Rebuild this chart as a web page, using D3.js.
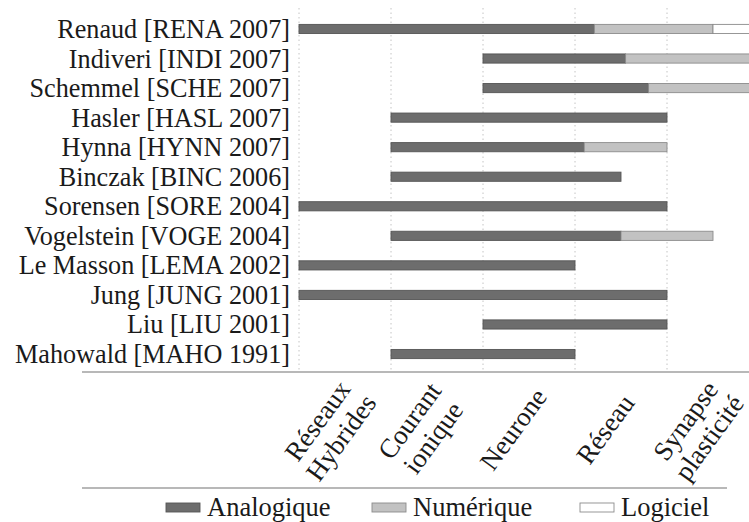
<!DOCTYPE html>
<html>
<head>
<meta charset="utf-8">
<script src="https://cdn.jsdelivr.net/npm/d3@7"></script>
<style>
  html, body { margin: 0; padding: 0; background: #fff; }
  svg { display: block; }
  text { font-family: "Liberation Serif", "Times New Roman", serif; fill: #1a1a1a; }
</style>
</head>
<body>
<svg id="chart" width="749" height="522"></svg>
<script>
// Works, in chronological order from top (newest) to bottom
const references = [
  "Renaud [RENA 2007]", "Indiveri [INDI 2007]", "Schemmel [SCHE 2007]",
  "Hasler [HASL 2007]", "Hynna [HYNN 2007]", "Binczak [BINC 2006]",
  "Sorensen [SORE 2004]", "Vogelstein [VOGE 2004]", "Le Masson [LEMA 2002]",
  "Jung [JUNG 2001]", "Liu [LIU 2001]", "Mahowald [MAHO 1991]"
];

// Modelling levels along the horizontal axis (one line per array entry)
const levels = [
  ["Réseaux", "Hybrides"],
  ["Courant", "ionique"],
  ["Neurone"],
  ["Réseau"],
  ["Synapse", "plasticité"]
];

// Extent of each implementation type, in level units (0 = Réseaux Hybrides boundary)
const analogStart  = [0, 2, 2, 1, 1, 1, 0, 1, 0, 0, 2, 1];
const analogEnd    = [3.21, 3.55, 3.8, 4, 3.1, 3.5, 4, 3.5, 3, 4, 4, 3];
const numericEnd   = [4.5, 5, 5, null, 4, null, null, 4.5, null, null, null, null];
const softwareEnd  = [5, null, null, null, null, null, null, null, null, null, null, null];

const seriesNames  = ["Analogique", "Numérique", "Logiciel"];
const seriesFill   = ["#6d6d6d", "#c2c2c2", "#ffffff"];
const seriesStroke = ["#555555", "#8c8c8c", "#8c8c8c"];

const svg = d3.select("#chart");

const x = d3.scaleLinear().domain([0, 5]).range([299, 759]);
const y = d3.scaleBand().domain(references).range([14.2, 368.8]).paddingInner(0.69).paddingOuter(0.345);

// Vertical dotted grid at each level boundary
svg.append("g")
  .selectAll("line")
  .data(d3.range(0, 6))
  .join("line")
  .attr("x1", d => x(d)).attr("x2", d => x(d))
  .attr("y1", 8).attr("y2", 372)
  .attr("stroke", "#c4c4c4")
  .attr("stroke-width", 1)
  .attr("stroke-dasharray", "1.5,3");

// Stacked segments per work
const segments = [];
references.forEach((r, i) => {
  segments.push({ r, s: 0, x0: analogStart[i], x1: analogEnd[i] });
  if (numericEnd[i] != null) segments.push({ r, s: 1, x0: analogEnd[i], x1: numericEnd[i] });
  if (softwareEnd[i] != null) segments.push({ r, s: 2, x0: numericEnd[i], x1: softwareEnd[i] });
});

svg.append("g")
  .selectAll("rect")
  .data(segments)
  .join("rect")
  .attr("x", d => x(d.x0))
  .attr("y", d => y(d.r))
  .attr("width", d => x(d.x1) - x(d.x0))
  .attr("height", y.bandwidth())
  .attr("fill", d => seriesFill[d.s])
  .attr("stroke", d => seriesStroke[d.s])
  .attr("stroke-width", 0.9);

// Row labels (slightly tall serif lettering)
svg.append("g")
  .selectAll("text")
  .data(references)
  .join("text")
  .attr("transform", d => `translate(290,${y(d) + y.bandwidth() / 2}) scale(1,1.07)`)
  .attr("dy", "0.32em")
  .attr("text-anchor", "end")
  .attr("font-size", 26.2)
  .text(d => d);

// Axis rules
svg.append("line")
  .attr("x1", 82).attr("x2", 749).attr("y1", 372).attr("y2", 372)
  .attr("stroke", "#a0a0a0").attr("stroke-width", 1.5);
svg.append("line")
  .attr("x1", 82).attr("x2", 727).attr("y1", 488).attr("y2", 488)
  .attr("stroke", "#a0a0a0").attr("stroke-width", 1.5);

// Rotated level labels, centred in each interval
const lineH = 29;
const lab = svg.append("g")
  .selectAll("g")
  .data(levels)
  .join("g")
  .attr("transform", (d, i) => `translate(${x(i + 0.5) - 16},429) rotate(-54)`);
lab.append("text")
  .attr("text-anchor", "middle")
  .attr("font-size", 27)
  .selectAll("tspan")
  .data(d => d.map((t, k) => ({ t, k, n: d.length })))
  .join("tspan")
  .attr("x", 0)
  .attr("y", d => (d.k - (d.n - 1) / 2) * lineH)
  .attr("dy", "0.35em")
  .text(d => d.t);

// Legend
const legendX = [166, 372, 580];
const leg = svg.append("g")
  .selectAll("g")
  .data(seriesNames)
  .join("g")
  .attr("transform", (d, i) => `translate(${legendX[i]},503)`);
leg.append("rect")
  .attr("width", 34).attr("height", 9)
  .attr("fill", (d, i) => seriesFill[i])
  .attr("stroke", (d, i) => seriesStroke[i])
  .attr("stroke-width", 0.9);
leg.append("text")
  .attr("x", 41).attr("y", 12.5)
  .attr("font-size", 26.5)
  .text(d => d);
</script>
</body>
</html>
